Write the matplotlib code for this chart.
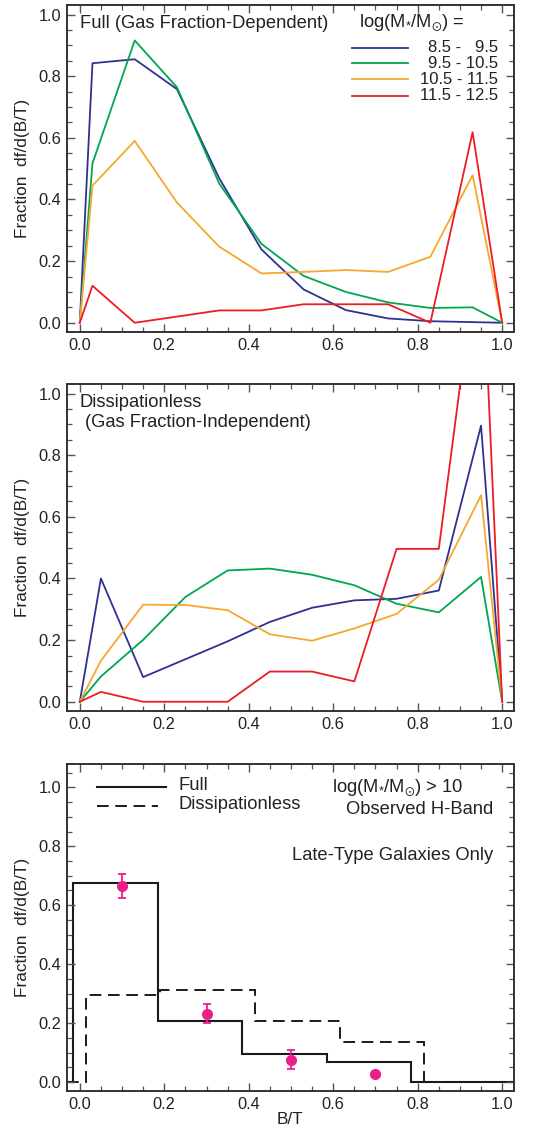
import numpy as np
import matplotlib
matplotlib.use("Agg")
import matplotlib.pyplot as plt
from matplotlib.ticker import MultipleLocator

plt.rcParams['font.family'] = ['Liberation Sans', 'DejaVu Sans']
plt.rcParams['mathtext.fontset'] = 'custom'
plt.rcParams['mathtext.rm'] = 'Liberation Sans'
plt.rcParams['mathtext.it'] = 'Liberation Sans:italic'
plt.rcParams['mathtext.default'] = 'regular'

# ---------------- data ----------------
mass_labels = ["8.5 -   9.5", "9.5 - 10.5", "10.5 - 11.5", "11.5 - 12.5"]
colors = ["#2E3192", "#00A651", "#F7A630", "#ED1C24"]

x_full = [0.0, 0.03, 0.13, 0.23, 0.33, 0.43, 0.53, 0.63, 0.73, 0.83, 0.93, 1.0]
full_blue = [0.0, 0.842, 0.855, 0.758, 0.469, 0.238, 0.108, 0.041, 0.014, 0.005, 0.002, 0.0]
full_green = [0.0, 0.517, 0.916, 0.764, 0.452, 0.256, 0.152, 0.100, 0.066, 0.048, 0.050, 0.0]
full_orange = [0.0, 0.445, 0.590, 0.390, 0.247, 0.160, 0.165, 0.171, 0.165, 0.214, 0.479, 0.0]
full_red = [0.0, 0.120, 0.0, 0.020, 0.040, 0.040, 0.060, 0.060, 0.060, 0.0, 0.618, 0.0]

x_diss = [0.0, 0.05, 0.15, 0.25, 0.35, 0.45, 0.55, 0.65, 0.75, 0.85, 0.95, 1.0]
diss_blue = [0.0, 0.400, 0.080, 0.138, 0.196, 0.259, 0.305, 0.329, 0.334, 0.361, 0.896, 0.0]
diss_green = [0.0, 0.082, 0.201, 0.340, 0.426, 0.432, 0.412, 0.378, 0.318, 0.290, 0.405, 0.0]
diss_orange = [0.0, 0.133, 0.315, 0.314, 0.297, 0.219, 0.198, 0.238, 0.285, 0.396, 0.670, 0.0]
diss_red = [0.0, 0.032, 0.0, 0.0, 0.0, 0.098, 0.098, 0.066, 0.496, 0.496, 1.55, 0.0]

hist_full_edges = [-0.015, 0.185, 0.385, 0.585, 0.785]
hist_full_vals = [0.676, 0.207, 0.097, 0.069]
hist_diss_edges = [0.015, 0.19, 0.415, 0.615, 0.815]
hist_diss_vals = [0.296, 0.314, 0.208, 0.135]

obs_x = [0.1, 0.3, 0.5, 0.7]
obs_y = [0.665, 0.232, 0.076, 0.026]
obs_err = [0.041, 0.032, 0.033, 0.006]

xticks = [0.0, 0.2, 0.4, 0.6, 0.8, 1.0]
yticks = [0.0, 0.2, 0.4, 0.6, 0.8, 1.0]

# ---------------- figure ----------------
fig = plt.figure(figsize=(5.54, 11.32), dpi=100)
W, H = 554, 1132
TXT = 13.2
NUM = 12

def make_ax(top, bottom):
    left, right = 66.7, 514
    return fig.add_axes([left / W, 1 - bottom / H, (right - left) / W, (bottom - top) / H])

ax1 = make_ax(5, 332)
ax2 = make_ax(384, 711)
ax3 = make_ax(764, 1091)

spine_c = '#333333'
for ax in (ax1, ax2, ax3):
    ax.set_xlim(-0.031, 1.028)
    ax.set_xticks(xticks)
    ax.set_yticks(yticks)
    ax.xaxis.set_minor_locator(MultipleLocator(0.05))
    ax.yaxis.set_minor_locator(MultipleLocator(0.05))
    ax.xaxis.set_major_formatter(matplotlib.ticker.FormatStrFormatter('%.1f'))
    ax.yaxis.set_major_formatter(matplotlib.ticker.FormatStrFormatter('%.1f'))
    ax.tick_params(which='both', direction='in', top=True, right=True,
                   color='#555555', labelsize=11.8, labelcolor='#222222')
    ax.tick_params(which='major', length=6, width=1.0, pad=4)
    ax.tick_params(which='minor', length=3.5, width=0.9)
    for s in ax.spines.values():
        s.set_color(spine_c)
        s.set_linewidth(1.4)
    ax.set_ylabel('Fraction  df/d(B/T)', fontsize=12.4, color='#222222', labelpad=6)

ax1.set_ylim(-0.03, 1.031)
ax2.set_ylim(-0.03, 1.031)
ax3.set_ylim(-0.03, 1.079)

# Panel 1
full_series = [full_blue, full_green, full_orange, full_red]
for ys, c, lab in zip(full_series, colors, mass_labels):
    ax1.plot(x_full, ys, color=c, lw=1.3, label=lab)

ax1.text(0.0, 0.972, 'Full (Gas Fraction-Dependent)', fontsize=TXT, va='center', ha='left', color='#222222')
ax1.text(0.66, 0.972, r'log(M$_{*}$/M$_{\odot}$) =', fontsize=TXT, va='center', ha='left', color='#222222')
leg_y = [0.893, 0.842, 0.790, 0.737]
for c, lab, yy in zip(colors, mass_labels, leg_y):
    ax1.plot([0.644, 0.778], [yy, yy], color=c, lw=1.3)
    ax1.text(0.991, yy, lab, fontsize=NUM, va='center', ha='right', color='#222222')

# Panel 2
diss_series = [diss_blue, diss_green, diss_orange, diss_red]
for ys, c in zip(diss_series, colors):
    ax2.plot(x_diss, ys, color=c, lw=1.3)
ax2.text(0.0, 0.97, 'Dissipationless', fontsize=TXT, va='center', ha='left', color='#222222')
ax2.text(0.012, 0.905, '(Gas Fraction-Independent)', fontsize=TXT, va='center', ha='left', color='#222222')

# Panel 3
xl = ax3.get_xlim()
fe = [xl[0]] + hist_full_edges + [xl[1]]
fv = [0.0] + hist_full_vals + [0.0]
de = [xl[0]] + hist_diss_edges + [xl[1]]
dv = [0.0] + hist_diss_vals + [0.0]
ax3.stairs(fv, fe, baseline=None, color='#1a1a1a', lw=1.5)
ax3.stairs(dv, de, baseline=None, color='#1a1a1a', lw=1.4, linestyle=(0, (6, 3.4)))
ax3.errorbar(obs_x, obs_y, yerr=obs_err, fmt='o', color='#EC1E8A', ms=7, capsize=3,
             elinewidth=1.3, capthick=1.3, zorder=5)

ax3.plot([0.04, 0.203], [1.0, 1.0], color='#1a1a1a', lw=1.5)
ax3.plot([0.04, 0.186], [0.937, 0.937], color='#1a1a1a', lw=1.4, linestyle=(0, (6, 3.4)))
ax3.text(0.233, 1.005, 'Full', fontsize=TXT, va='center', ha='left', color='#222222')
ax3.text(0.233, 0.94, 'Dissipationless', fontsize=TXT, va='center', ha='left', color='#222222')
ax3.text(0.908, 1.0, r'log(M$_{*}$/M$_{\odot}$) > 10', fontsize=TXT, va='center', ha='right', color='#222222')
ax3.text(0.98, 0.923, 'Observed H-Band', fontsize=TXT, va='center', ha='right', color='#222222')
ax3.text(0.98, 0.77, 'Late-Type Galaxies Only', fontsize=TXT, va='center', ha='right', color='#222222')
ax3.set_xlabel('B/T', fontsize=12.4, color='#222222', labelpad=0)

fig.savefig('out.png', dpi=100)
